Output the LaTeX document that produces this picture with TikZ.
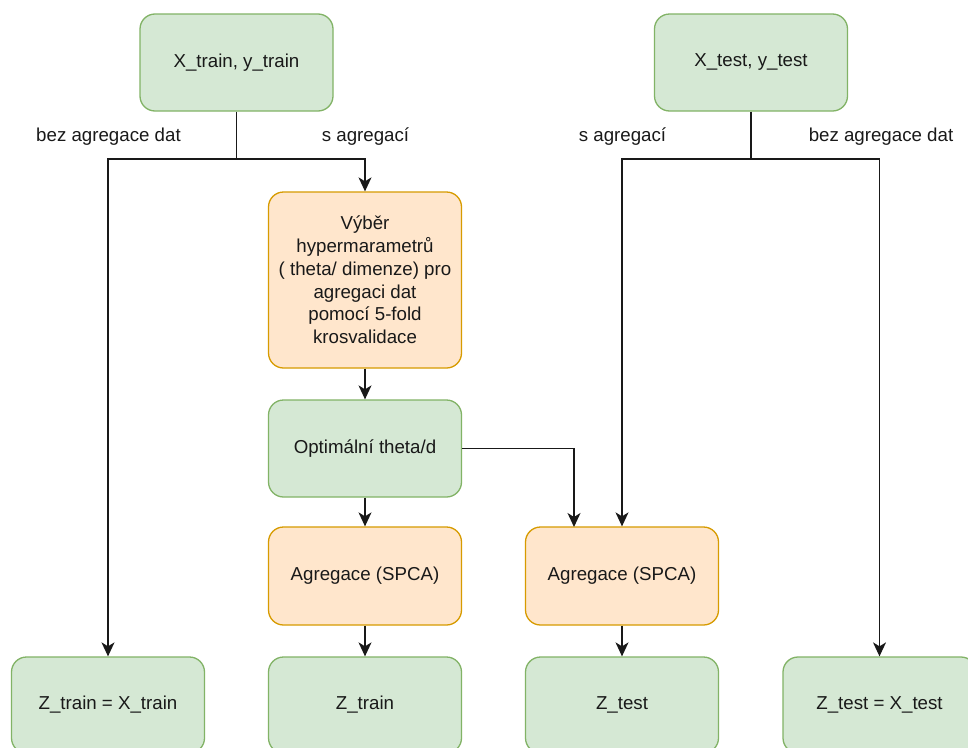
\documentclass[tikz,border=0pt]{standalone}
\usepackage{fontspec}
\setmainfont{Liberation Sans}
\usetikzlibrary{arrows.meta,positioning,calc}
\definecolor{gfill}{HTML}{D5E8D4}
\definecolor{gdraw}{HTML}{82B366}
\definecolor{ofill}{HTML}{FFE6CC}
\definecolor{odraw}{HTML}{D79B00}
\tikzset{
  box/.style={rounded corners=15pt, line width=1.3pt, minimum width=193pt, minimum height=97pt, align=center, inner sep=4pt, font=\fontsize{18.7}{22.8}\selectfont, text=black!90},
  gbox/.style={box, fill=gfill, draw=gdraw},
  obox/.style={box, fill=ofill, draw=odraw},
  conn/.style={line width=1.3pt, draw=black!90},
  arr/.style={conn, -{Stealth[length=14pt,width=13pt,inset=4pt]}},
  lbl/.style={font=\fontsize{18.7}{22.8}\selectfont, text=black!90, inner sep=0pt},
}
\begin{document}
\begin{tikzpicture}[x=1pt,y=-1pt]
\clip (0,0) rectangle (968,747);
\fill[white] (0,0) rectangle (968,747);
\node[gbox] (xtr) at (236.5,62.5) {X\_train, y\_train};
\node[gbox] (xte) at (751,62.5) {X\_test, y\_test};
\node[obox, minimum height=176pt] (vyb) at (365,280) {Výběr\\hypermarametrů\\( theta/ dimenze) pro\\agregaci dat\\pomocí 5-fold\\krosvalidace};
\node[gbox] (opt) at (365,448.5) {Optimální theta/d};
\node[obox, minimum height=98pt] (aggL) at (365,576) {Agregace (SPCA)};
\node[obox, minimum height=98pt] (aggR) at (622,576) {Agregace (SPCA)};
\node[gbox, minimum height=96pt] (ztrx) at (108,705) {Z\_train = X\_train};
\node[gbox, minimum height=96pt] (ztr) at (365,705) {Z\_train};
\node[gbox, minimum height=96pt] (zte) at (622,705) {Z\_test};
\node[gbox, minimum height=96pt] (ztex) at (879.5,705) {Z\_test = X\_test};
\coordinate (jtr) at (236.5,159);
\coordinate (jte) at (751,159);
\coordinate (optin) at (574,527);
\node[lbl] (l1) at (108.5,137) {bez agregace dat};
\node[lbl] (l2) at (365.5,137) {s agregací};
\node[lbl] (l3) at (622.5,137) {s agregací};
\node[lbl] (l4) at (881,137) {bez agregace dat};
\draw[conn] (xtr.south) -- (jtr);
\draw[arr] (jtr) -| (ztrx.north);
\draw[arr] (jtr) -| (vyb.north);
\draw[conn] (xte.south) -- (jte);
\draw[arr] (jte) -| (aggR.north);
\draw[arr] (jte) -| (ztex.north);
\draw[arr] (vyb) -- (opt);
\draw[arr] (opt) -- (aggL);
\draw[arr] (opt.east) -| (optin);
\draw[arr] (aggL) -- (ztr);
\draw[arr] (aggR) -- (zte);
\end{tikzpicture}
\end{document}
